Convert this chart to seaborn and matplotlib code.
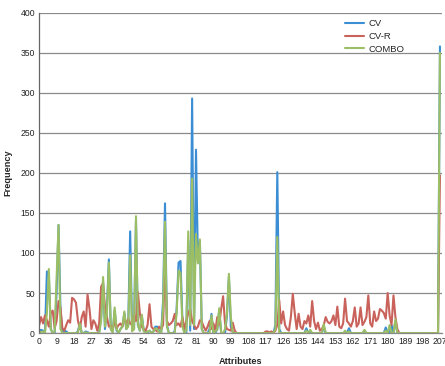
import numpy as np
import pandas as pd
import matplotlib
matplotlib.use("Agg")
import matplotlib.pyplot as plt
import seaborn as sns

attributes = list(range(208))

def sparse(n, pairs):
    arr = [0] * n
    for k, v in pairs.items():
        arr[k] = v
    return arr

cv_points = {
    0: 3, 1: 4, 2: 3, 4: 77, 5: 70, 6: 5, 9: 50, 10: 135, 11: 30, 13: 3, 14: 2,
    20: 2, 21: 12, 24: 2, 25: 1, 31: 2, 32: 20, 33: 65, 34: 5, 35: 30, 36: 92,
    37: 5, 38: 2, 39: 28, 40: 3, 42: 5, 43: 8, 44: 25, 45: 5, 46: 10, 47: 127,
    48: 5, 49: 5, 50: 140, 51: 10, 52: 3, 53: 22, 54: 3, 55: 2, 56: 1, 57: 3,
    59: 2, 60: 8, 61: 8, 62: 2, 64: 40, 65: 162, 66: 10, 70: 2, 71: 30, 72: 88,
    73: 90, 74: 15, 77: 115, 78: 3, 79: 293, 80: 5, 81: 229, 82: 90, 83: 115,
    84: 5, 88: 5, 89: 24, 92: 5, 93: 28, 97: 22, 98: 70, 99: 8, 100: 1,
    122: 10, 123: 201, 124: 5, 138: 6, 147: 8, 160: 6, 168: 3, 179: 7,
    182: 10, 184: 15, 207: 358,
}
combo_points = {
    0: 2, 1: 1, 2: 2, 4: 25, 5: 80, 6: 5, 8: 2, 9: 67, 10: 135, 11: 5,
    21: 12, 24: 1, 32: 15, 33: 70, 34: 8, 35: 25, 36: 88, 37: 5, 39: 32,
    40: 5, 42: 5, 43: 8, 44: 27, 45: 5, 46: 8, 47: 97, 48: 2, 49: 5, 50: 146,
    51: 10, 52: 3, 53: 23, 54: 2, 56: 2, 57: 3, 59: 2, 60: 6, 61: 5, 62: 1,
    64: 30, 65: 139, 66: 8, 71: 25, 72: 78, 73: 75, 74: 8, 76: 3, 77: 127,
    78: 10, 79: 193, 80: 10, 81: 124, 82: 87, 83: 117, 84: 5, 89: 22, 91: 2,
    92: 5, 93: 31, 96: 5, 97: 25, 98: 74, 99: 20, 122: 5, 123: 120,
    138: 3, 140: 4, 147: 11, 158: 3, 160: 2, 168: 4, 179: 3, 181: 10,
    184: 17, 207: 350,
}
cvr_head = [
    10, 20, 12, 22, 16, 8, 25, 28, 6, 15, 40, 32, 6, 3, 10, 16, 13, 44, 42, 38,
    16, 5, 20, 27, 8, 48, 30, 5, 16, 12, 3, 12, 58, 62, 33, 20, 8, 10, 5, 15,
    6, 10, 12, 8, 20, 10, 18, 12, 10, 22, 15, 51, 25, 8, 5, 3, 10, 36, 8, 5,
    4, 2, 8, 5, 10, 90, 15, 10, 12, 15, 24, 10, 12, 8, 20, 5, 15, 25, 30, 15,
    10, 5, 8, 16, 14, 8, 3, 8, 15, 5, 12, 3, 20, 10, 30, 46, 12, 5, 4, 3,
    13, 3,
]
cvr_mid = [0] * 15 + [2, 2, 1, 2, 0]  # 102..121
cvr_tail = [
    3, 10, 41, 12, 27, 10, 5, 3, 20, 49, 25, 5, 24, 8, 5, 15, 12, 22, 8, 40,
    15, 5, 13, 3, 5, 10, 20, 14, 12, 15, 22, 10, 33, 8, 6, 12, 43, 15, 12, 8,
    15, 32, 8, 12, 32, 10, 14, 20, 47, 12, 8, 27, 15, 18, 30, 28, 25, 18, 50,
    22, 10, 47, 20, 5,
]  # 122..185
cvr_end = [0] * 21 + [197]  # 186..207

cv = sparse(208, cv_points)
combo = sparse(208, combo_points)
cv_r = cvr_head + cvr_mid + cvr_tail + cvr_end
cv_r = (cv_r + [0] * 208)[:208]
cv_r[207] = 197

series_names = ["CV", "CV-R", "COMBO"]
colors = ["#3b8ed4", "#c9625b", "#9cbf65"]

df = pd.DataFrame({
    "Attributes": attributes * 3,
    "Frequency": cv + cv_r + combo,
    "Series": ["CV"] * 208 + ["CV-R"] * 208 + ["COMBO"] * 208,
})

sns.set_style("white")
plt.rcParams["font.family"] = ["Liberation Sans", "DejaVu Sans"]

fig = plt.figure(figsize=(4.45, 3.66), dpi=100)
ax = fig.add_axes([0.088, 0.090, 0.905, 0.875])

sns.lineplot(data=df, x="Attributes", y="Frequency", hue="Series",
             hue_order=series_names, palette=colors, linewidth=1.5, ax=ax,
             legend=True)

ax.set_xlim(0, 208)
ax.set_ylim(0, 400)
ax.set_yticks(range(0, 401, 50))
ax.set_xticks(range(0, 208, 9))
ax.tick_params(axis="both", length=0, labelsize=6.2, colors="#222222", pad=3)
ax.yaxis.grid(True, color="#8a8a8a", linewidth=0.9)
ax.xaxis.grid(False)
for s in ["top", "right"]:
    ax.spines[s].set_visible(False)
ax.spines["left"].set_color("#666666")
ax.spines["bottom"].set_color("#888888")
ax.spines["left"].set_linewidth(0.9)
ax.spines["bottom"].set_linewidth(0.9)

ax.set_xlabel("Attributes", fontsize=6.6, fontweight="bold", labelpad=8)
ax.set_ylabel("Frequency", fontsize=6.6, fontweight="bold", labelpad=6)

leg = ax.legend(loc="upper left", bbox_to_anchor=(0.75, 0.992), frameon=False,
                fontsize=6.8, handlelength=2.0, handletextpad=0.5,
                labelspacing=0.4, borderaxespad=0.0)
for line in leg.get_lines():
    line.set_linewidth(1.5)

fig.savefig("out.png", dpi=100)
